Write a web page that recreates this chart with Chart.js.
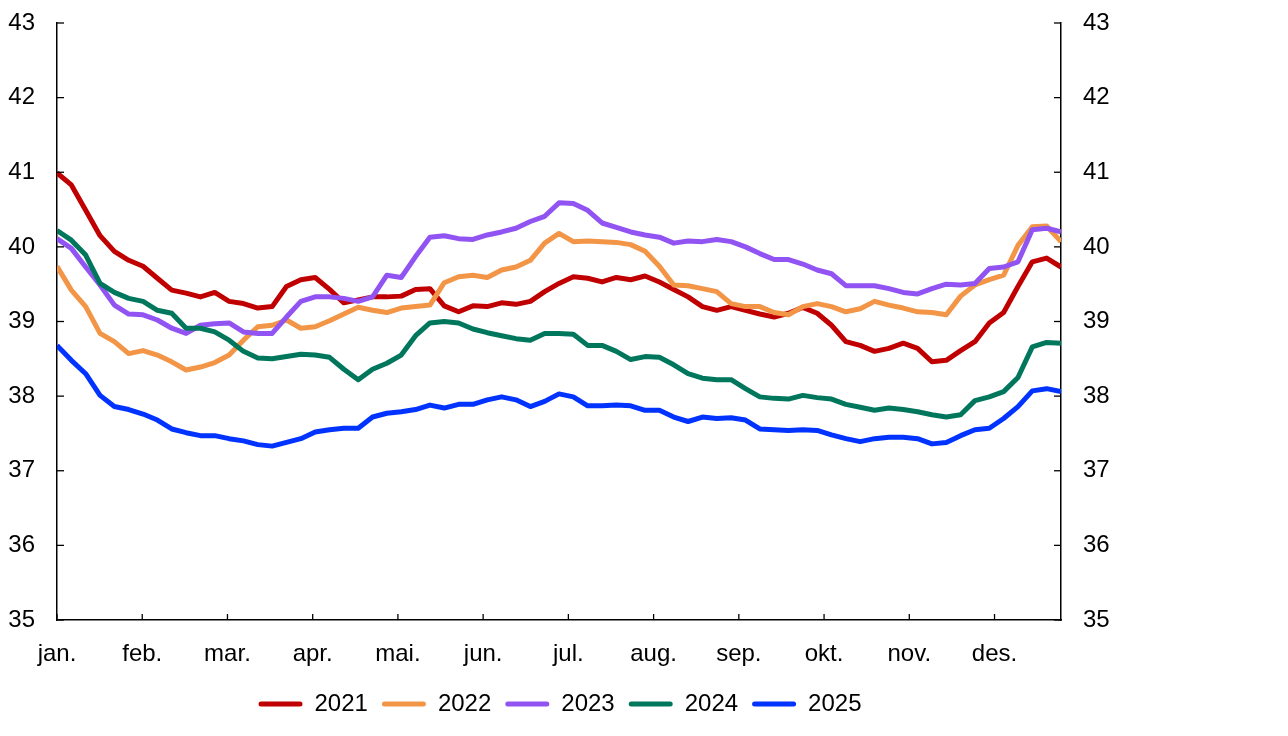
<!DOCTYPE html>
<html><head><meta charset="utf-8">
<script src="https://cdn.jsdelivr.net/npm/chart.js@4"></script>
<style>html,body{margin:0;padding:0;background:#fff}#wrap{width:1288px;height:736px;position:relative}</style>
</head><body><div id="wrap"><canvas id="c" width="1288" height="736"></canvas></div>
<script>
const months = ['jan.','feb.','mar.','apr.','mai.','jun.','jul.','aug.','sep.','okt.','nov.','des.'];
const xMax = 11.78;
const years = ['2021','2022','2023','2024','2025'];
const colors = ['#C00000','#F29546','#9153F2','#00775C','#0033FF'];

const s2021 = [40.99,40.83,40.49,40.15,39.94,39.82,39.74,39.58,39.42,39.38,39.33,39.39,39.27,39.24,39.18,39.20,39.47,39.56,
39.59,39.43,39.25,39.29,39.33,39.33,39.34,39.43,39.44,39.21,39.13,39.21,39.20,39.25,39.23,39.27,39.40,39.51,
39.60,39.58,39.53,39.59,39.56,39.61,39.53,39.43,39.33,39.20,39.15,39.20,39.15,39.10,39.06,39.11,39.19,39.11,
38.95,38.73,38.68,38.60,38.64,38.71,38.64,38.46,38.48,38.61,38.73,38.98,39.12,39.47,39.80,39.85,39.73];
const s2022 = [39.74,39.42,39.20,38.84,38.73,38.57,38.61,38.55,38.46,38.35,38.39,38.45,38.55,38.75,38.93,38.95,39.02,38.91,
38.93,39.01,39.10,39.19,39.15,39.12,39.18,39.20,39.22,39.52,39.60,39.62,39.59,39.69,39.73,39.82,40.05,40.18,
40.07,40.08,40.07,40.06,40.03,39.94,39.74,39.49,39.48,39.44,39.40,39.24,39.20,39.20,39.12,39.09,39.20,39.24,
39.20,39.13,39.17,39.27,39.22,39.18,39.13,39.12,39.09,39.34,39.49,39.56,39.62,40.02,40.27,40.28,40.07];
const s2023 = [40.11,39.98,39.73,39.49,39.22,39.10,39.09,39.02,38.91,38.84,38.95,38.97,38.98,38.86,38.84,38.84,39.06,39.27,
39.33,39.33,39.31,39.27,39.33,39.62,39.59,39.87,40.13,40.15,40.11,40.10,40.16,40.20,40.25,40.34,40.41,40.59,
40.58,40.49,40.32,40.26,40.20,40.16,40.13,40.05,40.08,40.07,40.10,40.07,40.00,39.91,39.83,39.83,39.77,39.69,
39.64,39.48,39.48,39.48,39.44,39.39,39.37,39.44,39.50,39.49,39.51,39.71,39.73,39.80,40.23,40.25,40.20];
const s2024 = [40.22,40.09,39.89,39.51,39.39,39.31,39.27,39.15,39.11,38.91,38.91,38.86,38.75,38.60,38.51,38.50,38.53,38.56,
38.55,38.52,38.36,38.22,38.36,38.44,38.55,38.81,38.98,39.00,38.98,38.90,38.85,38.81,38.77,38.75,38.84,38.84,
38.83,38.68,38.68,38.60,38.49,38.53,38.52,38.42,38.30,38.24,38.22,38.22,38.10,37.99,37.97,37.96,38.01,37.98,
37.96,37.89,37.85,37.81,37.84,37.82,37.79,37.75,37.72,37.75,37.94,37.99,38.06,38.25,38.66,38.72,38.71];
const s2025 = [38.68,38.48,38.30,38.01,37.86,37.82,37.76,37.68,37.56,37.51,37.47,37.47,37.43,37.40,37.35,37.33,37.38,37.43,
37.52,37.55,37.57,37.57,37.72,37.77,37.79,37.82,37.88,37.84,37.89,37.89,37.95,37.99,37.95,37.86,37.93,38.03,
37.99,37.87,37.87,37.88,37.87,37.81,37.81,37.72,37.66,37.72,37.70,37.71,37.68,37.56,37.55,37.54,37.55,37.54,
37.48,37.43,37.39,37.43,37.45,37.45,37.43,37.36,37.38,37.47,37.55,37.57,37.70,37.86,38.07,38.10,38.06];
const series = [s2021,s2022,s2023,s2024,s2025];

const FONT = {family:"'Liberation Sans', Arial, sans-serif", size:24};

const inwardTicks = {
  id:'inwardTicks',
  afterDraw(chart){
    const ctx = chart.ctx, ca = chart.chartArea;
    const {x, y, y2} = chart.scales;
    ctx.save();
    ctx.strokeStyle = '#000'; ctx.lineWidth = 1.3;
    y.ticks.forEach(t => { const p = y.getPixelForValue(t.value);
      ctx.beginPath(); ctx.moveTo(ca.left, p); ctx.lineTo(ca.left + 7, p); ctx.stroke(); });
    y2.ticks.forEach(t => { const p = y2.getPixelForValue(t.value);
      ctx.beginPath(); ctx.moveTo(ca.right, p); ctx.lineTo(ca.right - 7, p); ctx.stroke(); });
    x.ticks.forEach(t => { const p = x.getPixelForValue(t.value);
      ctx.beginPath(); ctx.moveTo(p, ca.bottom); ctx.lineTo(p, ca.bottom - 6); ctx.stroke(); });
    ctx.restore();
  }
};

const datasets = years.map((yr, i) => ({
  label: yr,
  data: series[i].map((v, k) => ({x: k * xMax / (series[i].length - 1), y: v})),
  borderColor: colors[i],
  backgroundColor: colors[i],
  borderWidth: 5,
  pointRadius: 0,
  tension: 0,
  borderJoinStyle: 'round',
  order: years.length - i,
  yAxisID: 'y'
}));

function yFit(w) {
  return (s) => { s.width = w; s.paddingTop = 0; s.paddingBottom = 0; };
}

new Chart(document.getElementById('c'), {
  type: 'line',
  data: {datasets},
  options: {
    responsive: false,
    animation: false,
    devicePixelRatio: 1,
    layout: {padding: {left: 0, right: 168, top: 23, bottom: 10}},
    plugins: {
      tooltip: {enabled: false},
      legend: {
        position: 'bottom',
        labels: {
          boxWidth: 44, boxHeight: 5, padding: 14, color: '#000', font: FONT,
          useBorderRadius: true, borderRadius: 2.5,
          sort: (a, b) => a.datasetIndex - b.datasetIndex,
          generateLabels: (chart) => Chart.defaults.plugins.legend.labels.generateLabels(chart).map(l => ({...l, lineWidth: 0}))
        }
      }
    },
    scales: {
      x: {
        type: 'linear', min: 0, max: xMax, position: 'bottom',
        grid: {display: false, drawTicks: false},
        border: {display: true, color: '#000', width: 1.5},
        ticks: {font: FONT, color: '#000', padding: 20, maxRotation: 0, autoSkip: false,
          callback: (v) => months[v]},
        afterBuildTicks: (s) => { s.ticks = months.map((m, i) => ({value: i})); },
        afterFit: (s) => { s.height = 58; s.paddingLeft = 0; s.paddingRight = 0; }
      },
      y: {
        position: 'left', min: 35, max: 43,
        grid: {display: false, drawTicks: false},
        border: {display: true, color: '#000', width: 1.5},
        ticks: {stepSize: 1, font: FONT, color: '#000', padding: 22},
        afterFit: yFit(57)
      },
      y2: {
        position: 'right', min: 35, max: 43,
        grid: {display: false, drawTicks: false},
        border: {display: true, color: '#000', width: 1.5},
        ticks: {stepSize: 1, font: FONT, color: '#000', padding: 22},
        afterFit: yFit(59)
      }
    }
  },
  plugins: [inwardTicks]
});
</script>
</body></html>
